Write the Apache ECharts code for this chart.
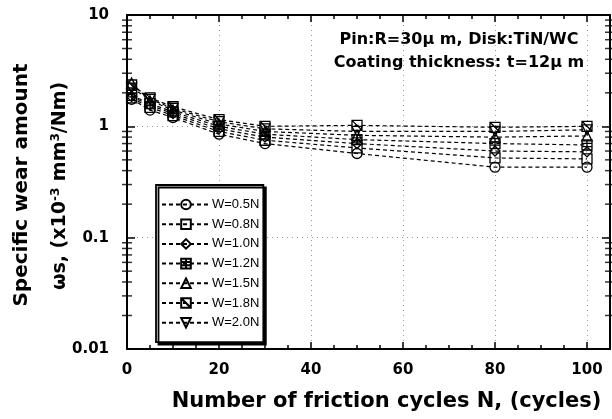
<!doctype html>
<html lang="en">
<head>
<meta charset="UTF-8">
<title>Specific wear amount</title>
<script src="https://cdn.jsdelivr.net/npm/echarts@6/dist/echarts.min.js"></script>
<style>
    html, body { margin: 0; padding: 0; background: #fff; }
    #chart { width: 612px; height: 419px; }
</style>
</head>
<body>
<div id="chart"></div>
<script type="text/javascript">
    // friction cycles (x)
    var cycles = [1, 5, 10, 20, 30, 50, 80, 100];
    // specific wear amount per load
    var w05 = [1.75, 1.40, 1.20, 0.85, 0.70, 0.57, 0.43, 0.43];
    var w08 = [1.80, 1.48, 1.25, 0.90, 0.75, 0.64, 0.52, 0.51];
    var w10 = [1.85, 1.55, 1.30, 0.95, 0.80, 0.70, 0.60, 0.59];
    var w12 = [1.90, 1.60, 1.35, 1.00, 0.85, 0.76, 0.70, 0.68];
    var w15 = [2.45, 1.70, 1.40, 1.05, 0.90, 0.83, 0.80, 0.82];
    var w18 = [2.35, 1.80, 1.50, 1.15, 1.00, 1.02, 0.98, 1.00];
    var w20 = [2.20, 1.75, 1.45, 1.10, 0.95, 0.90, 0.90, 0.93];
    var loadNames = ['W=0.5N', 'W=0.8N', 'W=1.0N', 'W=1.2N', 'W=1.5N', 'W=1.8N', 'W=2.0N'];
    var xTicks = [0, 20, 40, 60, 80, 100];
    var yTicks = [0.01, 0.1, 1, 10];
    // minor ticks of the log axis
    var yMinor = [0.02, 0.03, 0.04, 0.05, 0.06, 0.07, 0.08, 0.09,
                  0.2, 0.3, 0.4, 0.5, 0.6, 0.7, 0.8, 0.9,
                  2, 3, 4, 5, 6, 7, 8, 9];

    var FONT = '"Liberation Sans", Arial, sans-serif';
    var BFONT = '"DejaVu Sans", Verdana, sans-serif';
    var symbols = [
        'circle',
        'rect',
        'diamond',
        'path://M0,0H10V10H0Z M5,0V10 M0,3.3H10 M0,6.6H10',
        'triangle',
        'path://M0,0H10V10H0Z M0,0L10,10',
        'path://M0,0H10L5,10Z'
    ];
    var allData = [w05, w08, w10, w12, w15, w18, w20];

    var series = allData.map(function (vals, i) {
        return {
            name: loadNames[i],
            type: 'line',
            data: cycles.map(function (c, j) { return [c, vals[j]]; }),
            symbol: symbols[i],
            symbolSize: 10,
            showAllSymbol: true,
            lineStyle: { color: '#000', width: 1.2, type: [4, 3] },
            itemStyle: { color: 'rgba(255,255,255,0)', borderColor: '#000', borderWidth: 1.3 },
            emphasis: { disabled: true },
            z: 3 + i
        };
    });
    // log minor ticks on left and right axes
    series.push({
        name: 'minorL', type: 'scatter', silent: true, clip: false,
        data: yMinor.map(function (v) { return [0, v]; }),
        symbol: 'rect', symbolSize: [10, 1.5],
        itemStyle: { color: '#000' }, z: 10
    });
    series.push({
        name: 'minorR', type: 'scatter', silent: true, clip: false,
        data: yMinor.map(function (v) { return [105, v]; }),
        symbol: 'rect', symbolSize: [10, 1.5],
        itemStyle: { color: '#000' }, z: 10
    });

    var myChart = echarts.init(document.getElementById('chart'));
    var option = {
        animation: false,
        backgroundColor: '#fff',
        textStyle: { fontFamily: FONT },
        grid: { left: 127, right: 2, top: 15, bottom: 70 },
        legend: {
            orient: 'vertical',
            left: 156,
            top: 185,
            padding: [13, 4, 13, 5],
            itemWidth: 48,
            itemHeight: 12,
            itemGap: 6.7,
            backgroundColor: '#fff',
            borderColor: '#000',
            borderWidth: 1.8,
            shadowColor: '#000',
            shadowOffsetX: 2.5,
            shadowOffsetY: 2.5,
            shadowBlur: 0,
            textStyle: { fontSize: 13, color: '#000', fontFamily: FONT, padding: [0, 0, 0, -3] },
            data: loadNames
        },
        graphic: [
            {
                type: 'text', x: 459, y: 40,
                style: { text: 'Pin:R=30\u03bc m, Disk:TiN/WC', font: 'bold 16px ' + BFONT, fill: '#000', textAlign: 'center', textVerticalAlign: 'middle' }
            },
            {
                type: 'text', x: 459, y: 63,
                style: { text: 'Coating thickness: t=12\u03bc m', font: 'bold 16px ' + BFONT, fill: '#000', textAlign: 'center', textVerticalAlign: 'middle' }
            },
            {
                type: 'text', x: 22, y: 185, rotation: Math.PI / 2,
                style: { text: 'Specific wear amount', font: 'bold 20px ' + BFONT, fill: '#000', textAlign: 'center', textVerticalAlign: 'middle' }
            },
            {
                type: 'text', x: 60, y: 186, rotation: Math.PI / 2,
                style: {
                    text: '{a|\u03c9s, (x10}{s|-3}{a| mm}{s|3}{a|/Nm)}',
                    textAlign: 'center', textVerticalAlign: 'middle',
                    rich: {
                        a: { font: 'bold 19px ' + BFONT, fill: '#000', verticalAlign: 'bottom' },
                        s: { font: 'bold 12px ' + BFONT, fill: '#000', verticalAlign: 'top', padding: [0, 0, 8, 0] }
                    }
                }
            }
        ],
        xAxis: [{
            type: 'value',
            min: 0,
            max: 105,
            interval: 20,
            name: 'Number of friction cycles N, (cycles)',
            nameLocation: 'middle',
            nameGap: 42,
            nameTextStyle: { fontSize: 21, fontWeight: 'bold', color: '#000', fontFamily: BFONT, padding: [0, 0, 0, 36] },
            axisLine: { lineStyle: { color: '#000', width: 2 } },
            axisTick: { inside: true, length: 7, lineStyle: { color: '#000', width: 1.5 } },
            minorTick: { show: true, splitNumber: 4, length: 4, lineStyle: { color: '#000', width: 1.5 } },
            axisLabel: {
                fontSize: 15, fontWeight: 'bold', color: '#000', fontFamily: BFONT, margin: 14, showMaxLabel: false,
                formatter: function (v) { return xTicks.indexOf(v) >= 0 ? String(v) : ''; }
            },
            splitLine: { show: true, lineStyle: { color: '#999', width: 1, type: [1, 4] } }
        }, {
            type: 'value',
            position: 'top',
            min: 0,
            max: 105,
            interval: 20,
            axisLine: { onZero: false, lineStyle: { color: '#000', width: 2 } },
            axisTick: { inside: true, length: 7, lineStyle: { color: '#000', width: 1.5 } },
            minorTick: { show: true, splitNumber: 4, length: 4, lineStyle: { color: '#000', width: 1.5 } },
            axisLabel: { show: false },
            splitLine: { show: false }
        }],
        yAxis: [{
            type: 'log',
            logBase: 10,
            min: 0.01,
            max: 10,
            axisLine: { onZero: false, lineStyle: { color: '#000', width: 2 } },
            axisTick: { inside: true, length: 8, lineStyle: { color: '#000', width: 1.5 } },
            axisLabel: {
                fontSize: 15, fontWeight: 'bold', color: '#000', fontFamily: BFONT, margin: 18,
                formatter: function (v) {
                    for (var i = 0; i < yTicks.length; i++) {
                        if (Math.abs(v - yTicks[i]) < yTicks[i] * 1e-6) return String(yTicks[i]);
                    }
                    return '';
                }
            },
            splitLine: { show: true, lineStyle: { color: '#999', width: 1, type: [1, 4] } }
        }, {
            type: 'log',
            logBase: 10,
            min: 0.01,
            max: 10,
            position: 'right',
            axisLine: { onZero: false, lineStyle: { color: '#000', width: 2 } },
            axisTick: { inside: true, length: 8, lineStyle: { color: '#000', width: 1.5 } },
            axisLabel: { show: false },
            splitLine: { show: false }
        }],
        series: series
    };
    myChart.setOption(option);
</script>
</body>
</html>
